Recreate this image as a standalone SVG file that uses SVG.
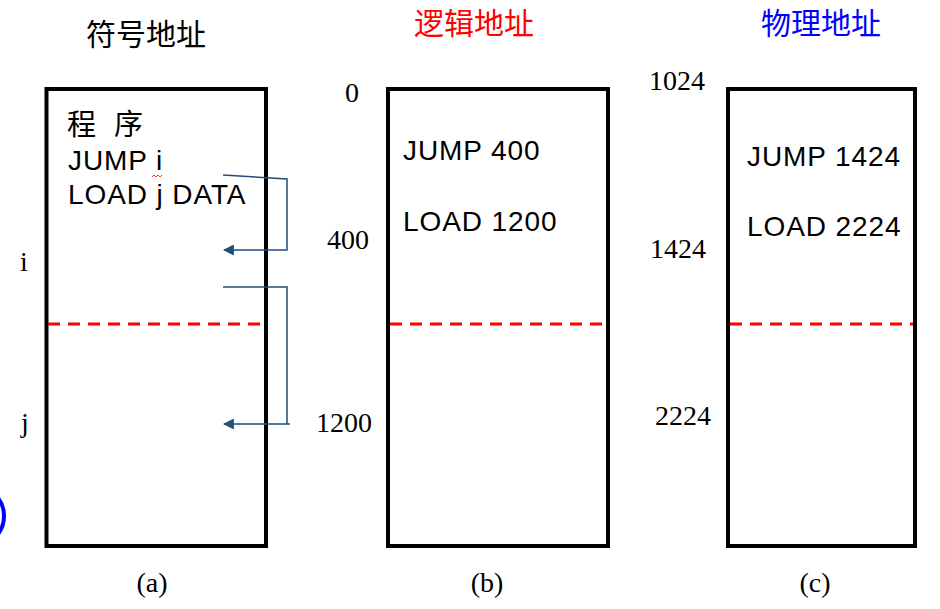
<svg xmlns="http://www.w3.org/2000/svg" width="940" height="609" viewBox="0 0 940 609">
<style>
.box{fill:none;stroke:#000;stroke-width:4}
.dash{stroke:#ff0000;stroke-width:3;stroke-dasharray:12,8;fill:none}
.code{font-family:"Liberation Sans",Arial,sans-serif;font-size:28px;letter-spacing:0.9px;fill:#000}
.cjk{font-family:"Noto Sans CJK SC",sans-serif;font-size:29px;fill:#000}
.num{font-family:"Liberation Serif","Times New Roman",serif;font-size:28px;fill:#000}
.title{font-family:"Noto Sans CJK SC",sans-serif;font-size:30px;text-anchor:middle}
.cap{font-family:"Liberation Serif","Times New Roman",serif;font-size:28px;text-anchor:middle;fill:#000}
.conn{fill:none;stroke:#1f4e79;stroke-width:1.5}
</style>
<defs>
<marker id="arr" viewBox="0 0 10 10" refX="9" refY="5" markerWidth="11" markerHeight="11" markerUnits="userSpaceOnUse" orient="auto">
<path d="M0,0 L10,5 L0,10 Z" fill="#1f4e79"/>
</marker>
</defs>
<rect width="940" height="609" fill="#fff"/>
<g id="titles">
<text class="title" x="146" y="45" fill="#000">符号地址</text>
<text class="title" x="474" y="34" fill="#ff0000">逻辑地址</text>
<text class="title" x="821" y="34" fill="#0000ff">物理地址</text>
</g>
<g id="box-a">
<rect class="box" x="46.5" y="89" width="219.5" height="457"/>
<line class="dash" x1="48" y1="324" x2="262" y2="324"/>
<text class="cjk" x="67" y="135">程</text>
<text class="cjk" x="114" y="135">序</text>
<text class="code" x="68" y="170">JUMP i</text>
<path d="M152,177 l2,-2 l2,2 l2,-2 l2,2 l2,-2" fill="none" stroke="#ff0000" stroke-width="0.8"/>
<text class="code" x="68" y="204">LOAD j DATA</text>
<text class="num" x="20" y="271">i</text>
<text class="num" x="21" y="432">j</text>
</g>
<g id="box-b">
<rect class="box" x="388" y="89" width="220" height="457"/>
<line class="dash" x1="390" y1="324" x2="606" y2="324"/>
<text class="code" x="403" y="160">JUMP 400</text>
<text class="code" x="403" y="231">LOAD 1200</text>
<text class="num" x="345" y="102">0</text>
<text class="num" x="327" y="249">400</text>
<text class="num" x="316" y="432">1200</text>
</g>
<g id="box-c">
<rect class="box" x="728" y="89" width="187" height="457"/>
<line class="dash" x1="730" y1="324" x2="913" y2="324"/>
<text class="code" x="747" y="166">JUMP 1424</text>
<text class="code" x="747" y="236">LOAD 2224</text>
<text class="num" x="649" y="90">1024</text>
<text class="num" x="650" y="258">1424</text>
<text class="num" x="655" y="425">2224</text>
</g>
<g id="connectors">
<path class="conn" d="M223,175 L287,179 L287,250 L224,250" marker-end="url(#arr)"/>
<path class="conn" d="M223,287 L287,287 L287,424 L224,424" marker-end="url(#arr)"/>
<line class="conn" x1="287" y1="424" x2="290" y2="424"/>
</g>
<g id="captions">
<text class="cap" x="152" y="592">(a)</text>
<text class="cap" x="487" y="592">(b)</text>
<text class="cap" x="815" y="592">(c)</text>
</g>
<ellipse cx="-14" cy="516" rx="18" ry="24" fill="none" stroke="#0000ff" stroke-width="4"/>
</svg>
